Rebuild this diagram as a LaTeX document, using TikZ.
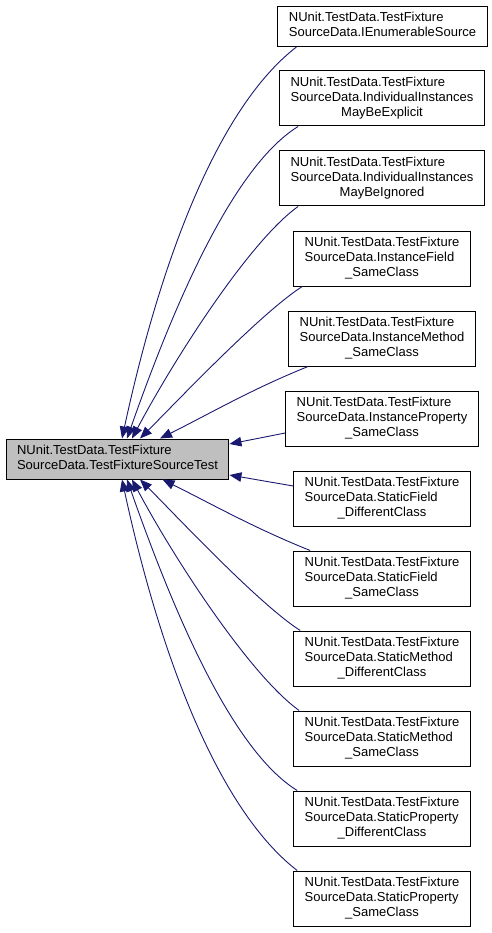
\documentclass[tikz,border=0pt]{standalone}
\usepackage{fontspec}
\setmainfont{Liberation Sans}
\usetikzlibrary{arrows.meta}
\definecolor{edgeblue}{RGB}{25,25,112}
\definecolor{basegray}{RGB}{191,191,191}
\newcommand{\twoline}[2]{\begin{tabular}{@{}l@{}}#1\\#2\end{tabular}}
\newcommand{\threeline}[3]{\begin{tabular}{@{}l@{}}#1\\#2\\\multicolumn{1}{@{}c@{}}{#3}\end{tabular}}

\begin{document}
\begin{tikzpicture}[x=1pt, y=-1pt, font=\fontsize{13}{15}\selectfont,
    >={Triangle[length=12pt,width=9.5pt]},
    cls/.style={draw, rectangle, line width=1pt,
                inner xsep=11pt, inner ysep=5pt},
    edge/.style={->, draw=edgeblue, line width=0.9pt}]

\useasboundingbox (0,0) rectangle (491,933);

\node[cls, fill=basegray] (main) at (117.5, 459)
    {\twoline{NUnit.TestData.TestFixture}{SourceData.TestFixtureSourceTest}};

\node[cls] (b1)  at (382.5,  26.5) {\twoline{NUnit.TestData.TestFixture}{SourceData.IEnumerableSource}};
\node[cls] (b2)  at (382,  98.5) {\threeline{NUnit.TestData.TestFixture}{SourceData.IndividualInstances}{MayBeExplicit}};
\node[cls] (b3)  at (382, 178.5) {\threeline{NUnit.TestData.TestFixture}{SourceData.IndividualInstances}{MayBeIgnored}};
\node[cls] (b4)  at (382, 258.5) {\threeline{NUnit.TestData.TestFixture}{SourceData.InstanceField}{\_SameClass}};
\node[cls] (b5)  at (382, 338.5) {\threeline{NUnit.TestData.TestFixture}{SourceData.InstanceMethod}{\_SameClass}};
\node[cls] (b6)  at (382, 418.5) {\threeline{NUnit.TestData.TestFixture}{SourceData.InstanceProperty}{\_SameClass}};
\node[cls] (b7)  at (382, 498.5) {\threeline{NUnit.TestData.TestFixture}{SourceData.StaticField}{\_DifferentClass}};
\node[cls] (b8)  at (382, 578.5) {\threeline{NUnit.TestData.TestFixture}{SourceData.StaticField}{\_SameClass}};
\node[cls] (b9)  at (382, 658.5) {\threeline{NUnit.TestData.TestFixture}{SourceData.StaticMethod}{\_DifferentClass}};
\node[cls] (b10) at (382, 738.5) {\threeline{NUnit.TestData.TestFixture}{SourceData.StaticMethod}{\_SameClass}};
\node[cls] (b11) at (382, 818.5) {\threeline{NUnit.TestData.TestFixture}{SourceData.StaticProperty}{\_DifferentClass}};
\node[cls] (b12) at (382, 898.5) {\threeline{NUnit.TestData.TestFixture}{SourceData.StaticProperty}{\_SameClass}};

% derived classes above the base
\draw[edge] ([xshift=19pt]b1.south west) .. controls +(-79,61) and +(38,-176) .. ([xshift=4.5pt]main.north);
\draw[edge] ([xshift=19pt]b2.south west) .. controls +(-68,42) and +(43,-122) .. ([xshift=9.5pt]main.north);
\draw[edge] ([xshift=19pt]b3.south west) .. controls +(-49,35) and +(42,-79) .. ([xshift=14.5pt]main.north);
\draw[edge] ([xshift=9pt]b4.south west) .. controls +(-42,27) and +(35,-35) .. ([xshift=22.5pt]main.north);
\draw[edge] ([xshift=20pt]b5.south west) .. controls +(-55,22) and +(50,-25) .. ([xshift=42.5pt]main.north);
\draw[edge] ([yshift=-14.5pt]b6.west) -- ([yshift=15pt]main.east);

% derived classes below the base
\draw[edge] ([yshift=12.5pt]b7.west) -- ([yshift=-16pt]main.east);
\draw[edge] ([xshift=17pt]b8.north west) .. controls +(-55,-22) and +(50,25) .. ([xshift=45pt]main.south);
\draw[edge] ([xshift=7pt]b9.north west) .. controls +(-42,-27) and +(35,35) .. ([xshift=22.5pt]main.south);
\draw[edge] ([xshift=6pt]b10.north west) .. controls +(-49,-35) and +(42,79) .. ([xshift=14.5pt]main.south);
\draw[edge] ([xshift=4pt]b11.north west) .. controls +(-68,-42) and +(43,122) .. ([xshift=9.5pt]main.south);
\draw[edge] ([xshift=4pt]b12.north west) .. controls +(-79,-61) and +(38,176) .. ([xshift=4.5pt]main.south);

\end{tikzpicture}
\end{document}
